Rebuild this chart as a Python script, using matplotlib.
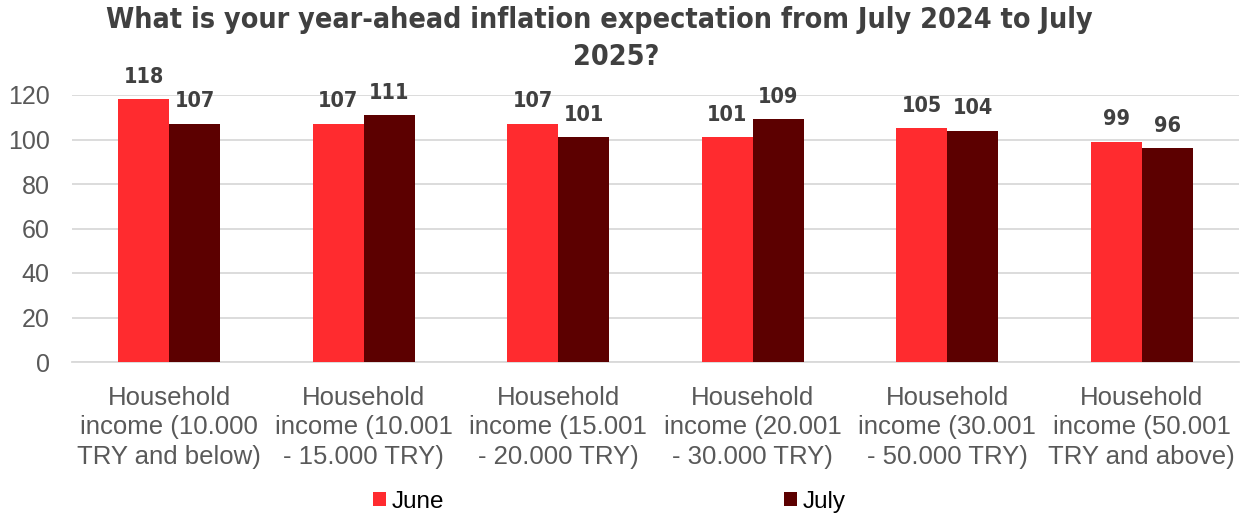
import numpy as np
import matplotlib.pyplot as plt

categories = [
    "Household\nincome (10.000\nTRY and below)",
    "Household\nincome (10.001\n- 15.000 TRY)",
    "Household\nincome (15.001\n- 20.000 TRY)",
    "Household\nincome (20.001\n- 30.000 TRY)",
    "Household\nincome (30.001\n- 50.000 TRY)",
    "Household\nincome (50.001\nTRY and above)",
]
june = [118, 107, 107, 101, 105, 99]
july = [107, 111, 101, 109, 104, 96]
series_names = ["June", "July"]
yticks = [0, 20, 40, 60, 80, 100, 120]
title_lines = ["What is your year-ahead inflation expectation from July 2024 to July", "2025?"]

red = "#FF2B2F"
maroon = "#5C0000"
grey = "#595959"

fig = plt.figure(figsize=(12.44, 5.19), dpi=100)
ax = fig.add_axes([72 / 1244, 1 - 362 / 519, (1239 - 72) / 1244, (362 - 95) / 519])

x = np.arange(len(categories))
w = 0.262
b1 = ax.bar(x - w / 2, june, w, color=red, label=series_names[0], zorder=3)
b2 = ax.bar(x + w / 2, july, w, color=maroon, label=series_names[1], zorder=3)

for bars in (b1, b2):
    for r in bars:
        ax.annotate(f"{r.get_height():.0f}", (r.get_x() + r.get_width() / 2, r.get_height()),
                    xytext=(0, 9), textcoords="offset points", ha="center", va="bottom",
                    annotation_clip=False, fontsize=15.5, fontweight="bold", color="#404040",
                    fontstretch="condensed")

ax.set_xlim(-0.5, len(categories) - 0.5)
ax.set_ylim(0, 120)
ax.set_yticks(yticks)
ax.set_xticks(x)
ax.set_xticklabels(categories, fontsize=18.5, color=grey, family="Liberation Sans", linespacing=1.3)
ax.tick_params(axis="y", labelsize=18, labelcolor=grey, length=0, pad=16)
ax.tick_params(axis="x", length=0, pad=17)
for lbl in ax.get_yticklabels():
    lbl.set_family("Liberation Sans")
ax.grid(axis="y", color="#D9D9D9", linewidth=1.3, zorder=0)
for s in ["top", "right", "left"]:
    ax.spines[s].set_visible(False)
ax.spines["bottom"].set_color("#D9D9D9")
ax.spines["bottom"].set_linewidth(1.3)

# Excel centres each title line separately
title_kw = dict(ha="center", va="center", fontsize=20.5, fontweight="bold",
                color="#404040", fontstretch="condensed")
fig.text(599 / 1244, 1 - 20 / 519, title_lines[0], **title_kw)
fig.text(616 / 1244, 1 - 57 / 519, title_lines[1], **title_kw)

fig.legend(loc="center", bbox_to_anchor=(0.49, 1 - 502 / 519), ncol=2, frameon=False,
           handlelength=0.5, handleheight=0.5, handletextpad=0.25,
           columnspacing=14.0, prop={"family": "Liberation Sans", "size": 17.5})

fig.savefig("out.png", dpi=100)
